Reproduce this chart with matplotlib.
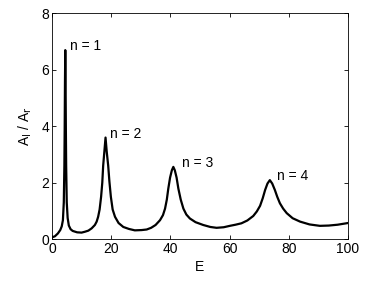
import numpy as np
import matplotlib.pyplot as plt

plt.rcParams['font.family'] = ['Liberation Sans', 'DejaVu Sans']

# curve
E = [0, 1, 2, 2.8, 3.3, 3.7, 4.0, 4.2, 4.3, 4.4, 4.5, 4.6, 4.7, 4.8, 5.0,
     5.3, 5.7, 6.3, 7.0, 8.5, 10, 11.1, 12.3, 13.4, 14.5, 15.1, 15.6, 16.1,
     16.6, 17.0, 17.3, 17.7, 18.1, 18.5, 19.0, 19.4, 19.9, 20.5, 21.3, 22.5,
     24.1, 26, 28, 30.3, 32, 33.5, 35, 36.5, 37.5, 38.2, 38.8, 39.3, 39.9,
     40.5, 41.0, 41.5, 42.1, 42.7, 43.5, 44.4, 45.4, 46.6, 48.5, 51.1, 53.5,
     55.6, 58, 60.1, 62, 64, 66, 68.0, 69.2, 70.3, 71.2, 72.0, 72.8, 73.6,
     74.4, 75.3, 76.1, 77.0, 78.1, 79.3, 81.3, 83.8, 87, 90.5, 93.5, 96.5,
     100]
ratio = [0.06, 0.1, 0.2, 0.32, 0.45, 0.67, 1.3, 2.6, 3.9, 5.6, 6.7, 5.6, 3.9,
         2.6, 1.3, 0.75, 0.48, 0.35, 0.29, 0.24, 0.23, 0.26, 0.3, 0.38, 0.5,
         0.62, 0.79, 1.05, 1.5, 2.0, 2.6, 3.1, 3.6, 3.1, 2.6, 2.05, 1.5,
         1.05, 0.79, 0.57, 0.43, 0.36, 0.31, 0.32, 0.34, 0.4, 0.5, 0.67, 0.85,
         1.08, 1.4, 1.79, 2.18, 2.44, 2.56, 2.44, 2.18, 1.79, 1.4, 1.08, 0.87,
         0.73, 0.6, 0.5, 0.43, 0.40, 0.42, 0.47, 0.51, 0.56, 0.66, 0.82, 0.98,
         1.18, 1.45, 1.74, 1.97, 2.09, 1.97, 1.74, 1.5, 1.27, 1.08, 0.92,
         0.74, 0.62, 0.52, 0.47, 0.48, 0.51, 0.57]

peak_E = [4.5, 18.1, 41.0, 73.6]
peak_val = [6.7, 3.6, 2.56, 2.09]
labels = ['n = 1', 'n = 2', 'n = 3', 'n = 4']
label_dx = [3.4, 3.1, 6, 5.5]

fig = plt.figure(figsize=(3.82, 2.86), dpi=100)
ax = fig.add_axes([0.136, 0.164, 0.775, 0.789])

ax.plot(E, ratio, color='black', lw=1.6, solid_joinstyle='round')

for xe, yv, lab, dx in zip(peak_E, peak_val, labels, label_dx):
    ax.annotate(lab, (xe, yv), xytext=(dx, 0), textcoords='offset points',
                ha='left', va='baseline', fontsize=10)

ax.set_xlim(0, 100)
ax.set_ylim(0, 8)
ax.set_xticks([0, 20, 40, 60, 80, 100])
ax.set_yticks([0, 2, 4, 6, 8])
ax.tick_params(direction='in', top=True, right=True, length=3, width=0.6,
               labelsize=10, pad=2)
for s in ax.spines.values():
    s.set_linewidth(0.6)

ax.set_xlabel('E', fontsize=10, labelpad=3)
ax.set_ylabel(r'A$_\mathrm{I}$ / A$_\mathrm{r}$', fontsize=10, labelpad=5)

fig.savefig('out.png', dpi=100)
